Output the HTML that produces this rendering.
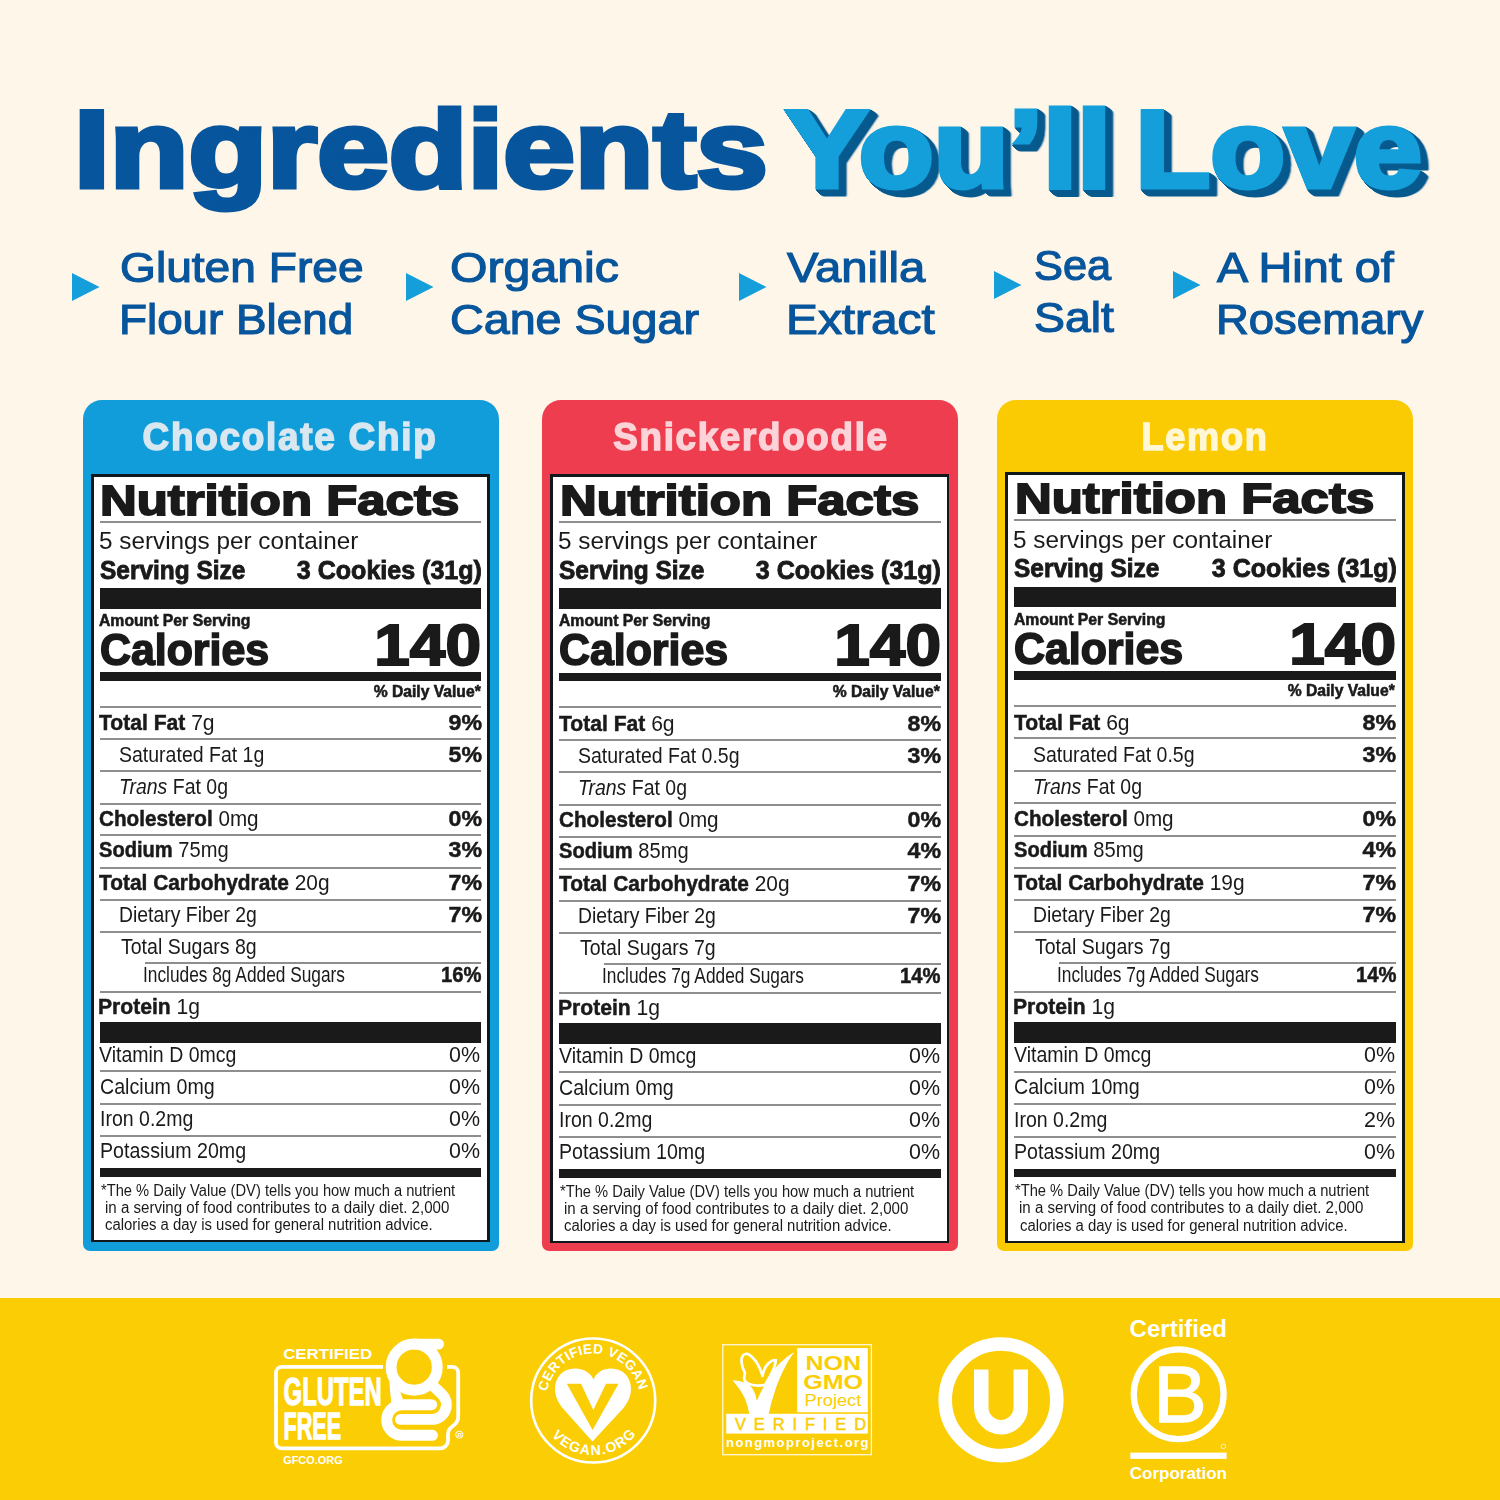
<!DOCTYPE html><html><head><meta charset="utf-8"><title>Ingredients You'll Love</title><style>
html,body{margin:0;padding:0;overflow:hidden}body{width:1500px;height:1500px;position:relative;overflow:hidden;background:#fff6ea;font-family:"Liberation Sans",sans-serif}
div,span.t{position:absolute}span.t{white-space:nowrap;line-height:1;display:block}svg{position:absolute;overflow:visible}
</style></head><body>
<svg style="left:72px;top:272.7px" width="28" height="28" viewBox="0 0 28 28"><path d="M0 0L27.5 14L0 28Z" fill="#149fdb"/></svg>
<svg style="left:406px;top:272.7px" width="28" height="28" viewBox="0 0 28 28"><path d="M0 0L27.5 14L0 28Z" fill="#149fdb"/></svg>
<svg style="left:738.7px;top:272.7px" width="28" height="28" viewBox="0 0 28 28"><path d="M0 0L27.5 14L0 28Z" fill="#149fdb"/></svg>
<svg style="left:994px;top:270.6px" width="28" height="28" viewBox="0 0 28 28"><path d="M0 0L27.5 14L0 28Z" fill="#149fdb"/></svg>
<svg style="left:1172.5px;top:270.6px" width="28" height="28" viewBox="0 0 28 28"><path d="M0 0L27.5 14L0 28Z" fill="#149fdb"/></svg>
<div style="left:83px;top:400px;width:416px;height:851px;background:#109dd9;border-radius:19px 19px 7px 7px;"></div>
<div style="left:90.9px;top:473.8px;width:399.3px;height:768.7px;background:#10181c"></div>
<div style="left:93.7px;top:476.6px;width:393.7px;height:763.1px;background:#fff"></div>
<div style="left:99.6px;top:521px;width:381.7px;height:2px;background:#8e8e8e;"></div>
<div style="left:99.6px;top:588px;width:381.7px;height:20.6px;background:#1b1a1a;"></div>
<div style="left:99.6px;top:672.2px;width:381.7px;height:8.8px;background:#1b1a1a;"></div>
<div style="left:99.6px;top:706px;width:381.7px;height:2px;background:#8e8e8e;"></div>
<div style="left:99.6px;top:738px;width:381.7px;height:2px;background:#8e8e8e;"></div>
<div style="left:99.6px;top:770px;width:381.7px;height:2px;background:#8e8e8e;"></div>
<div style="left:99.6px;top:803px;width:381.7px;height:2px;background:#8e8e8e;"></div>
<div style="left:99.6px;top:834px;width:381.7px;height:2px;background:#8e8e8e;"></div>
<div style="left:99.6px;top:867px;width:381.7px;height:2px;background:#8e8e8e;"></div>
<div style="left:99.6px;top:899px;width:381.7px;height:2px;background:#8e8e8e;"></div>
<div style="left:99.6px;top:931px;width:381.7px;height:2px;background:#8e8e8e;"></div>
<div style="left:99.6px;top:991px;width:381.7px;height:2px;background:#8e8e8e;"></div>
<div style="left:144.8px;top:962px;width:336.5px;height:2px;background:#8e8e8e;"></div>
<div style="left:99.6px;top:1022px;width:381.7px;height:20.6px;background:#1b1a1a;"></div>
<div style="left:99.6px;top:1070px;width:381.7px;height:2px;background:#8e8e8e;"></div>
<div style="left:99.6px;top:1103px;width:381.7px;height:2px;background:#8e8e8e;"></div>
<div style="left:99.6px;top:1135px;width:381.7px;height:2px;background:#8e8e8e;"></div>
<div style="left:99.6px;top:1168px;width:381.7px;height:8.8px;background:#1b1a1a;"></div>
<div style="left:542px;top:400px;width:416px;height:851px;background:#ee3d4e;border-radius:19px 19px 7px 7px;"></div>
<div style="left:550.2px;top:473.8px;width:399.3px;height:769.7px;background:#10181c"></div>
<div style="left:553.0px;top:476.6px;width:393.7px;height:764.1px;background:#fff"></div>
<div style="left:558.9px;top:521px;width:381.7px;height:2px;background:#8e8e8e;"></div>
<div style="left:558.9px;top:588.1px;width:381.7px;height:20.7px;background:#1b1a1a;"></div>
<div style="left:558.9px;top:672.6px;width:381.7px;height:8.8px;background:#1b1a1a;"></div>
<div style="left:558.9px;top:706px;width:381.7px;height:2px;background:#8e8e8e;"></div>
<div style="left:558.9px;top:739px;width:381.7px;height:2px;background:#8e8e8e;"></div>
<div style="left:558.9px;top:771px;width:381.7px;height:2px;background:#8e8e8e;"></div>
<div style="left:558.9px;top:804px;width:381.7px;height:2px;background:#8e8e8e;"></div>
<div style="left:558.9px;top:836px;width:381.7px;height:2px;background:#8e8e8e;"></div>
<div style="left:558.9px;top:868px;width:381.7px;height:2px;background:#8e8e8e;"></div>
<div style="left:558.9px;top:900px;width:381.7px;height:2px;background:#8e8e8e;"></div>
<div style="left:558.9px;top:932px;width:381.7px;height:2px;background:#8e8e8e;"></div>
<div style="left:558.9px;top:992px;width:381.7px;height:2px;background:#8e8e8e;"></div>
<div style="left:604.1px;top:963px;width:336.5px;height:2px;background:#8e8e8e;"></div>
<div style="left:558.9px;top:1023.0px;width:381.7px;height:20.6px;background:#1b1a1a;"></div>
<div style="left:558.9px;top:1071px;width:381.7px;height:2px;background:#8e8e8e;"></div>
<div style="left:558.9px;top:1104px;width:381.7px;height:2px;background:#8e8e8e;"></div>
<div style="left:558.9px;top:1136px;width:381.7px;height:2px;background:#8e8e8e;"></div>
<div style="left:558.9px;top:1169.0px;width:381.7px;height:8.8px;background:#1b1a1a;"></div>
<div style="left:997px;top:400px;width:416px;height:851px;background:#facb03;border-radius:19px 19px 7px 7px;"></div>
<div style="left:1005.3px;top:471.8px;width:399.3px;height:771.6px;background:#10181c"></div>
<div style="left:1008.1px;top:474.6px;width:393.7px;height:766.0px;background:#fff"></div>
<div style="left:1014.0px;top:519px;width:381.7px;height:2px;background:#8e8e8e;"></div>
<div style="left:1014.0px;top:586.6px;width:381.7px;height:20.7px;background:#1b1a1a;"></div>
<div style="left:1014.0px;top:671.3px;width:381.7px;height:8.8px;background:#1b1a1a;"></div>
<div style="left:1014.0px;top:705px;width:381.7px;height:2px;background:#8e8e8e;"></div>
<div style="left:1014.0px;top:737px;width:381.7px;height:2px;background:#8e8e8e;"></div>
<div style="left:1014.0px;top:770px;width:381.7px;height:2px;background:#8e8e8e;"></div>
<div style="left:1014.0px;top:802px;width:381.7px;height:2px;background:#8e8e8e;"></div>
<div style="left:1014.0px;top:835px;width:381.7px;height:2px;background:#8e8e8e;"></div>
<div style="left:1014.0px;top:867px;width:381.7px;height:2px;background:#8e8e8e;"></div>
<div style="left:1014.0px;top:899px;width:381.7px;height:2px;background:#8e8e8e;"></div>
<div style="left:1014.0px;top:931px;width:381.7px;height:2px;background:#8e8e8e;"></div>
<div style="left:1014.0px;top:991px;width:381.7px;height:2px;background:#8e8e8e;"></div>
<div style="left:1059.2px;top:962px;width:336.5px;height:2px;background:#8e8e8e;"></div>
<div style="left:1014.0px;top:1022.4px;width:381.7px;height:20.6px;background:#1b1a1a;"></div>
<div style="left:1014.0px;top:1071px;width:381.7px;height:2px;background:#8e8e8e;"></div>
<div style="left:1014.0px;top:1103px;width:381.7px;height:2px;background:#8e8e8e;"></div>
<div style="left:1014.0px;top:1136px;width:381.7px;height:2px;background:#8e8e8e;"></div>
<div style="left:1014.0px;top:1168.7px;width:381.7px;height:8.8px;background:#1b1a1a;"></div>
<div style="left:0px;top:1298px;width:1500px;height:202px;background:#facd05;"></div>
<span class="t" style="top:94.38px;font-size:110px;font-weight:700;color:#07559c;left:73.79px;transform-origin:0 0;transform:scaleX(1.1704);-webkit-text-stroke:5px #07559c;">Ingredients</span>
<span class="t" style="top:94.38px;font-size:110px;font-weight:700;color:#149fdb;left:786.40px;transform-origin:0 0;transform:scaleX(1.1166);-webkit-text-stroke:5px #149fdb;filter:drop-shadow(1.14px 1px 0 #075a8e) drop-shadow(1.14px 1px 0 #075a8e) drop-shadow(1.14px 1px 0 #075a8e) drop-shadow(1.14px 1px 0 #075a8e) drop-shadow(1.14px 1px 0 #075a8e) drop-shadow(1.14px 1px 0 #075a8e) drop-shadow(1.14px 1px 0 #075a8e);word-spacing:-9px;">You&#8217;ll Love</span>
<span class="t" style="top:245.90px;font-size:43px;font-weight:400;color:#07559c;left:120.01px;transform-origin:0 0;transform:scaleX(1.0727);-webkit-text-stroke:1.2px #07559c;">Gluten Free</span>
<span class="t" style="top:297.90px;font-size:43px;font-weight:400;color:#07559c;left:118.63px;transform-origin:0 0;transform:scaleX(1.0650);-webkit-text-stroke:1.2px #07559c;">Flour Blend</span>
<span class="t" style="top:245.90px;font-size:43px;font-weight:400;color:#07559c;left:449.96px;transform-origin:0 0;transform:scaleX(1.1221);-webkit-text-stroke:1.2px #07559c;">Organic</span>
<span class="t" style="top:297.90px;font-size:43px;font-weight:400;color:#07559c;left:449.96px;transform-origin:0 0;transform:scaleX(1.0849);-webkit-text-stroke:1.2px #07559c;">Cane Sugar</span>
<span class="t" style="top:245.90px;font-size:43px;font-weight:400;color:#07559c;left:787.39px;transform-origin:0 0;transform:scaleX(1.0987);-webkit-text-stroke:1.2px #07559c;">Vanilla</span>
<span class="t" style="top:297.90px;font-size:43px;font-weight:400;color:#07559c;left:786.21px;transform-origin:0 0;transform:scaleX(1.1116);-webkit-text-stroke:1.2px #07559c;">Extract</span>
<span class="t" style="top:244.10px;font-size:43px;font-weight:400;color:#07559c;left:1033.59px;transform-origin:0 0;transform:scaleX(1.0087);-webkit-text-stroke:1.2px #07559c;">Sea</span>
<span class="t" style="top:296.10px;font-size:43px;font-weight:400;color:#07559c;left:1033.59px;transform-origin:0 0;transform:scaleX(1.0787);-webkit-text-stroke:1.2px #07559c;">Salt</span>
<span class="t" style="top:245.90px;font-size:43px;font-weight:400;color:#07559c;left:1216.86px;transform-origin:0 0;transform:scaleX(1.0868);-webkit-text-stroke:1.2px #07559c;">A Hint of</span>
<span class="t" style="top:297.90px;font-size:43px;font-weight:400;color:#07559c;left:1216.05px;transform-origin:0 0;transform:scaleX(1.0573);-webkit-text-stroke:1.2px #07559c;">Rosemary</span>
<span class="t" style="top:417.53px;font-size:38.6px;font-weight:700;color:#d9e7f1;left:90.35px;width:400px;text-align:center;transform-origin:50% 0;transform:scaleX(0.9574);-webkit-text-stroke:1.5px #d9e7f1;letter-spacing:1.8px;"><span>Chocolate Chip</span></span>
<span class="t" style="top:478.64px;font-size:42.6px;font-weight:700;color:#1b1a1a;left:100.31px;transform-origin:0 0;transform:scaleX(1.1952);-webkit-text-stroke:1.8px #1b1a1a;">Nutrition Facts</span>
<span class="t" style="top:529.28px;font-size:24.6px;font-weight:400;color:#1b1a1a;left:99.08px;transform-origin:0 0;transform:scaleX(0.9878);">5 servings per container</span>
<span class="t" style="top:556.87px;font-size:26.5px;font-weight:700;color:#1b1a1a;left:99.69px;transform-origin:0 0;transform:scaleX(0.9226);-webkit-text-stroke:0.9px #1b1a1a;">Serving Size</span>
<span class="t" style="top:556.87px;font-size:26.5px;font-weight:700;color:#1b1a1a;right:1017.99px;transform-origin:100% 0;transform:scaleX(0.9445);-webkit-text-stroke:0.9px #1b1a1a;">3 Cookies (31g)</span>
<span class="t" style="top:611.93px;font-size:16.5px;font-weight:700;color:#1b1a1a;left:99.22px;transform-origin:0 0;transform:scaleX(0.9545);-webkit-text-stroke:0.6px #1b1a1a;">Amount Per Serving</span>
<span class="t" style="top:627.56px;font-size:44.7px;font-weight:700;color:#1b1a1a;left:99.86px;transform-origin:0 0;transform:scaleX(0.9588);-webkit-text-stroke:1.7px #1b1a1a;">Calories</span>
<span class="t" style="top:616.63px;font-size:57.5px;font-weight:700;color:#1b1a1a;right:1018.61px;transform-origin:100% 0;transform:scaleX(1.1112);-webkit-text-stroke:2px #1b1a1a;">140</span>
<span class="t" style="top:683.78px;font-size:16.8px;font-weight:700;color:#1b1a1a;right:1019.19px;transform-origin:100% 0;transform:scaleX(0.9335);-webkit-text-stroke:0.6px #1b1a1a;">% Daily Value*</span>
<span class="t" style="top:712.21px;font-size:22.2px;font-weight:400;color:#1b1a1a;left:99.25px;transform-origin:0 0;transform:scaleX(0.9503);"><b style="-webkit-text-stroke:0.5px #1b1a1a">Total Fat</b> 7g</span>
<span class="t" style="top:712.21px;font-size:22.2px;font-weight:700;color:#1b1a1a;right:1018.40px;transform-origin:100% 0;transform:scaleX(1.0443);-webkit-text-stroke:0.5px #1b1a1a;">9%</span>
<span class="t" style="top:744.21px;font-size:22.2px;font-weight:400;color:#1b1a1a;left:119.05px;transform-origin:0 0;transform:scaleX(0.8791);">Saturated Fat 1g</span>
<span class="t" style="top:744.21px;font-size:22.2px;font-weight:700;color:#1b1a1a;right:1018.40px;transform-origin:100% 0;transform:scaleX(1.0443);-webkit-text-stroke:0.5px #1b1a1a;">5%</span>
<span class="t" style="top:776.21px;font-size:22.2px;font-weight:400;color:#1b1a1a;left:119.05px;transform-origin:0 0;transform:scaleX(0.8779);"><i>Trans</i> Fat 0g</span>
<span class="t" style="top:807.81px;font-size:22.2px;font-weight:400;color:#1b1a1a;left:99.25px;transform-origin:0 0;transform:scaleX(0.9312);"><b style="-webkit-text-stroke:0.5px #1b1a1a">Cholesterol</b> 0mg</span>
<span class="t" style="top:807.81px;font-size:22.2px;font-weight:700;color:#1b1a1a;right:1018.40px;transform-origin:100% 0;transform:scaleX(1.0443);-webkit-text-stroke:0.5px #1b1a1a;">0%</span>
<span class="t" style="top:839.41px;font-size:22.2px;font-weight:400;color:#1b1a1a;left:99.25px;transform-origin:0 0;transform:scaleX(0.9067);"><b style="-webkit-text-stroke:0.5px #1b1a1a">Sodium</b> 75mg</span>
<span class="t" style="top:839.41px;font-size:22.2px;font-weight:700;color:#1b1a1a;right:1018.40px;transform-origin:100% 0;transform:scaleX(1.0443);-webkit-text-stroke:0.5px #1b1a1a;">3%</span>
<span class="t" style="top:871.61px;font-size:22.2px;font-weight:400;color:#1b1a1a;left:99.25px;transform-origin:0 0;transform:scaleX(0.9413);"><b style="-webkit-text-stroke:0.5px #1b1a1a">Total Carbohydrate</b> 20g</span>
<span class="t" style="top:871.61px;font-size:22.2px;font-weight:700;color:#1b1a1a;right:1018.40px;transform-origin:100% 0;transform:scaleX(1.0443);-webkit-text-stroke:0.5px #1b1a1a;">7%</span>
<span class="t" style="top:903.91px;font-size:22.2px;font-weight:400;color:#1b1a1a;left:119.05px;transform-origin:0 0;transform:scaleX(0.8737);">Dietary Fiber 2g</span>
<span class="t" style="top:903.91px;font-size:22.2px;font-weight:700;color:#1b1a1a;right:1018.40px;transform-origin:100% 0;transform:scaleX(1.0443);-webkit-text-stroke:0.5px #1b1a1a;">7%</span>
<span class="t" style="top:936.21px;font-size:22.2px;font-weight:400;color:#1b1a1a;left:120.85px;transform-origin:0 0;transform:scaleX(0.8800);">Total Sugars 8g</span>
<span class="t" style="top:963.61px;font-size:22.2px;font-weight:400;color:#1b1a1a;left:142.94px;transform-origin:0 0;transform:scaleX(0.7798);">Includes 8g Added Sugars</span>
<span class="t" style="top:963.61px;font-size:22.2px;font-weight:700;color:#1b1a1a;right:1018.40px;transform-origin:100% 0;transform:scaleX(0.9117);-webkit-text-stroke:0.5px #1b1a1a;">16%</span>
<span class="t" style="top:995.71px;font-size:22.2px;font-weight:400;color:#1b1a1a;left:98.35px;transform-origin:0 0;transform:scaleX(0.9509);"><b style="-webkit-text-stroke:0.5px #1b1a1a">Protein</b> 1g</span>
<span class="t" style="top:1043.61px;font-size:22.2px;font-weight:400;color:#1b1a1a;left:99.25px;transform-origin:0 0;transform:scaleX(0.8796);">Vitamin D 0mcg</span>
<span class="t" style="top:1043.61px;font-size:22.2px;font-weight:400;color:#1b1a1a;right:1019.50px;transform-origin:100% 0;transform:scaleX(0.9664);">0%</span>
<span class="t" style="top:1075.91px;font-size:22.2px;font-weight:400;color:#1b1a1a;left:99.96px;transform-origin:0 0;transform:scaleX(0.8858);">Calcium 0mg</span>
<span class="t" style="top:1075.91px;font-size:22.2px;font-weight:400;color:#1b1a1a;right:1019.50px;transform-origin:100% 0;transform:scaleX(0.9664);">0%</span>
<span class="t" style="top:1108.11px;font-size:22.2px;font-weight:400;color:#1b1a1a;left:99.96px;transform-origin:0 0;transform:scaleX(0.8803);">Iron 0.2mg</span>
<span class="t" style="top:1108.11px;font-size:22.2px;font-weight:400;color:#1b1a1a;right:1019.50px;transform-origin:100% 0;transform:scaleX(0.9664);">0%</span>
<span class="t" style="top:1140.41px;font-size:22.2px;font-weight:400;color:#1b1a1a;left:99.96px;transform-origin:0 0;transform:scaleX(0.8841);">Potassium 20mg</span>
<span class="t" style="top:1140.41px;font-size:22.2px;font-weight:400;color:#1b1a1a;right:1019.50px;transform-origin:100% 0;transform:scaleX(0.9664);">0%</span>
<span class="t" style="top:1182.59px;font-size:15.6px;font-weight:400;color:#1b1a1a;left:100.66px;transform-origin:0 0;transform:scaleX(0.9424);">*The % Daily Value (DV) tells you how much a nutrient</span>
<span class="t" style="top:1199.69px;font-size:15.6px;font-weight:400;color:#1b1a1a;left:104.54px;transform-origin:0 0;transform:scaleX(0.9664);">in a serving of food contributes to a daily diet. 2,000</span>
<span class="t" style="top:1217.09px;font-size:15.6px;font-weight:400;color:#1b1a1a;left:105.14px;transform-origin:0 0;transform:scaleX(0.9568);">calories a day is used for general nutrition advice.</span>
<span class="t" style="top:417.53px;font-size:38.6px;font-weight:700;color:#fbd3d8;left:550.62px;width:400px;text-align:center;transform-origin:50% 0;transform:scaleX(0.9525);-webkit-text-stroke:1.5px #fbd3d8;letter-spacing:1.8px;"><span>Snickerdoodle</span></span>
<span class="t" style="top:478.64px;font-size:42.6px;font-weight:700;color:#1b1a1a;left:559.61px;transform-origin:0 0;transform:scaleX(1.1952);-webkit-text-stroke:1.8px #1b1a1a;">Nutrition Facts</span>
<span class="t" style="top:529.28px;font-size:24.6px;font-weight:400;color:#1b1a1a;left:558.38px;transform-origin:0 0;transform:scaleX(0.9878);">5 servings per container</span>
<span class="t" style="top:556.94px;font-size:26.5px;font-weight:700;color:#1b1a1a;left:558.99px;transform-origin:0 0;transform:scaleX(0.9226);-webkit-text-stroke:0.9px #1b1a1a;">Serving Size</span>
<span class="t" style="top:556.94px;font-size:26.5px;font-weight:700;color:#1b1a1a;right:558.69px;transform-origin:100% 0;transform:scaleX(0.9445);-webkit-text-stroke:0.9px #1b1a1a;">3 Cookies (31g)</span>
<span class="t" style="top:612.20px;font-size:16.5px;font-weight:700;color:#1b1a1a;left:558.52px;transform-origin:0 0;transform:scaleX(0.9545);-webkit-text-stroke:0.6px #1b1a1a;">Amount Per Serving</span>
<span class="t" style="top:627.98px;font-size:44.7px;font-weight:700;color:#1b1a1a;left:559.16px;transform-origin:0 0;transform:scaleX(0.9588);-webkit-text-stroke:1.7px #1b1a1a;">Calories</span>
<span class="t" style="top:617.05px;font-size:57.5px;font-weight:700;color:#1b1a1a;right:559.31px;transform-origin:100% 0;transform:scaleX(1.1112);-webkit-text-stroke:2px #1b1a1a;">140</span>
<span class="t" style="top:684.33px;font-size:16.8px;font-weight:700;color:#1b1a1a;right:559.89px;transform-origin:100% 0;transform:scaleX(0.9335);-webkit-text-stroke:0.6px #1b1a1a;">% Daily Value*</span>
<span class="t" style="top:712.89px;font-size:22.2px;font-weight:400;color:#1b1a1a;left:558.55px;transform-origin:0 0;transform:scaleX(0.9503);"><b style="-webkit-text-stroke:0.5px #1b1a1a">Total Fat</b> 6g</span>
<span class="t" style="top:712.89px;font-size:22.2px;font-weight:700;color:#1b1a1a;right:559.10px;transform-origin:100% 0;transform:scaleX(1.0443);-webkit-text-stroke:0.5px #1b1a1a;">8%</span>
<span class="t" style="top:745.02px;font-size:22.2px;font-weight:400;color:#1b1a1a;left:578.35px;transform-origin:0 0;transform:scaleX(0.8791);">Saturated Fat 0.5g</span>
<span class="t" style="top:745.02px;font-size:22.2px;font-weight:700;color:#1b1a1a;right:559.10px;transform-origin:100% 0;transform:scaleX(1.0443);-webkit-text-stroke:0.5px #1b1a1a;">3%</span>
<span class="t" style="top:777.15px;font-size:22.2px;font-weight:400;color:#1b1a1a;left:578.35px;transform-origin:0 0;transform:scaleX(0.8779);"><i>Trans</i> Fat 0g</span>
<span class="t" style="top:808.81px;font-size:22.2px;font-weight:400;color:#1b1a1a;left:558.55px;transform-origin:0 0;transform:scaleX(0.9312);"><b style="-webkit-text-stroke:0.5px #1b1a1a">Cholesterol</b> 0mg</span>
<span class="t" style="top:808.81px;font-size:22.2px;font-weight:700;color:#1b1a1a;right:559.10px;transform-origin:100% 0;transform:scaleX(1.0443);-webkit-text-stroke:0.5px #1b1a1a;">0%</span>
<span class="t" style="top:840.41px;font-size:22.2px;font-weight:400;color:#1b1a1a;left:558.55px;transform-origin:0 0;transform:scaleX(0.9067);"><b style="-webkit-text-stroke:0.5px #1b1a1a">Sodium</b> 85mg</span>
<span class="t" style="top:840.41px;font-size:22.2px;font-weight:700;color:#1b1a1a;right:559.10px;transform-origin:100% 0;transform:scaleX(1.0443);-webkit-text-stroke:0.5px #1b1a1a;">4%</span>
<span class="t" style="top:872.61px;font-size:22.2px;font-weight:400;color:#1b1a1a;left:558.55px;transform-origin:0 0;transform:scaleX(0.9413);"><b style="-webkit-text-stroke:0.5px #1b1a1a">Total Carbohydrate</b> 20g</span>
<span class="t" style="top:872.61px;font-size:22.2px;font-weight:700;color:#1b1a1a;right:559.10px;transform-origin:100% 0;transform:scaleX(1.0443);-webkit-text-stroke:0.5px #1b1a1a;">7%</span>
<span class="t" style="top:904.91px;font-size:22.2px;font-weight:400;color:#1b1a1a;left:578.35px;transform-origin:0 0;transform:scaleX(0.8737);">Dietary Fiber 2g</span>
<span class="t" style="top:904.91px;font-size:22.2px;font-weight:700;color:#1b1a1a;right:559.10px;transform-origin:100% 0;transform:scaleX(1.0443);-webkit-text-stroke:0.5px #1b1a1a;">7%</span>
<span class="t" style="top:937.21px;font-size:22.2px;font-weight:400;color:#1b1a1a;left:580.15px;transform-origin:0 0;transform:scaleX(0.8800);">Total Sugars 7g</span>
<span class="t" style="top:964.61px;font-size:22.2px;font-weight:400;color:#1b1a1a;left:602.24px;transform-origin:0 0;transform:scaleX(0.7798);">Includes 7g Added Sugars</span>
<span class="t" style="top:964.61px;font-size:22.2px;font-weight:700;color:#1b1a1a;right:559.10px;transform-origin:100% 0;transform:scaleX(0.9117);-webkit-text-stroke:0.5px #1b1a1a;">14%</span>
<span class="t" style="top:996.71px;font-size:22.2px;font-weight:400;color:#1b1a1a;left:557.65px;transform-origin:0 0;transform:scaleX(0.9509);"><b style="-webkit-text-stroke:0.5px #1b1a1a">Protein</b> 1g</span>
<span class="t" style="top:1044.61px;font-size:22.2px;font-weight:400;color:#1b1a1a;left:558.55px;transform-origin:0 0;transform:scaleX(0.8796);">Vitamin D 0mcg</span>
<span class="t" style="top:1044.61px;font-size:22.2px;font-weight:400;color:#1b1a1a;right:560.20px;transform-origin:100% 0;transform:scaleX(0.9664);">0%</span>
<span class="t" style="top:1076.91px;font-size:22.2px;font-weight:400;color:#1b1a1a;left:559.26px;transform-origin:0 0;transform:scaleX(0.8858);">Calcium 0mg</span>
<span class="t" style="top:1076.91px;font-size:22.2px;font-weight:400;color:#1b1a1a;right:560.20px;transform-origin:100% 0;transform:scaleX(0.9664);">0%</span>
<span class="t" style="top:1109.11px;font-size:22.2px;font-weight:400;color:#1b1a1a;left:559.26px;transform-origin:0 0;transform:scaleX(0.8803);">Iron 0.2mg</span>
<span class="t" style="top:1109.11px;font-size:22.2px;font-weight:400;color:#1b1a1a;right:560.20px;transform-origin:100% 0;transform:scaleX(0.9664);">0%</span>
<span class="t" style="top:1141.41px;font-size:22.2px;font-weight:400;color:#1b1a1a;left:559.26px;transform-origin:0 0;transform:scaleX(0.8841);">Potassium 10mg</span>
<span class="t" style="top:1141.41px;font-size:22.2px;font-weight:400;color:#1b1a1a;right:560.20px;transform-origin:100% 0;transform:scaleX(0.9664);">0%</span>
<span class="t" style="top:1183.59px;font-size:15.6px;font-weight:400;color:#1b1a1a;left:559.96px;transform-origin:0 0;transform:scaleX(0.9424);">*The % Daily Value (DV) tells you how much a nutrient</span>
<span class="t" style="top:1200.69px;font-size:15.6px;font-weight:400;color:#1b1a1a;left:563.84px;transform-origin:0 0;transform:scaleX(0.9664);">in a serving of food contributes to a daily diet. 2,000</span>
<span class="t" style="top:1218.09px;font-size:15.6px;font-weight:400;color:#1b1a1a;left:564.44px;transform-origin:0 0;transform:scaleX(0.9568);">calories a day is used for general nutrition advice.</span>
<span class="t" style="top:417.53px;font-size:38.6px;font-weight:700;color:#fff7d6;left:1004.76px;width:400px;text-align:center;transform-origin:50% 0;transform:scaleX(0.9371);-webkit-text-stroke:1.5px #fff7d6;letter-spacing:1.8px;"><span>Lemon</span></span>
<span class="t" style="top:476.86px;font-size:42.6px;font-weight:700;color:#1b1a1a;left:1014.71px;transform-origin:0 0;transform:scaleX(1.1952);-webkit-text-stroke:1.8px #1b1a1a;">Nutrition Facts</span>
<span class="t" style="top:527.69px;font-size:24.6px;font-weight:400;color:#1b1a1a;left:1013.48px;transform-origin:0 0;transform:scaleX(0.9878);">5 servings per container</span>
<span class="t" style="top:555.45px;font-size:26.5px;font-weight:700;color:#1b1a1a;left:1014.09px;transform-origin:0 0;transform:scaleX(0.9226);-webkit-text-stroke:0.9px #1b1a1a;">Serving Size</span>
<span class="t" style="top:555.45px;font-size:26.5px;font-weight:700;color:#1b1a1a;right:103.59px;transform-origin:100% 0;transform:scaleX(0.9445);-webkit-text-stroke:0.9px #1b1a1a;">3 Cookies (31g)</span>
<span class="t" style="top:610.77px;font-size:16.5px;font-weight:700;color:#1b1a1a;left:1013.62px;transform-origin:0 0;transform:scaleX(0.9545);-webkit-text-stroke:0.6px #1b1a1a;">Amount Per Serving</span>
<span class="t" style="top:626.62px;font-size:44.7px;font-weight:700;color:#1b1a1a;left:1014.26px;transform-origin:0 0;transform:scaleX(0.9588);-webkit-text-stroke:1.7px #1b1a1a;">Calories</span>
<span class="t" style="top:615.68px;font-size:57.5px;font-weight:700;color:#1b1a1a;right:104.21px;transform-origin:100% 0;transform:scaleX(1.1112);-webkit-text-stroke:2px #1b1a1a;">140</span>
<span class="t" style="top:683.02px;font-size:16.8px;font-weight:700;color:#1b1a1a;right:104.79px;transform-origin:100% 0;transform:scaleX(0.9335);-webkit-text-stroke:0.6px #1b1a1a;">% Daily Value*</span>
<span class="t" style="top:711.63px;font-size:22.2px;font-weight:400;color:#1b1a1a;left:1013.65px;transform-origin:0 0;transform:scaleX(0.9503);"><b style="-webkit-text-stroke:0.5px #1b1a1a">Total Fat</b> 6g</span>
<span class="t" style="top:711.63px;font-size:22.2px;font-weight:700;color:#1b1a1a;right:104.00px;transform-origin:100% 0;transform:scaleX(1.0443);-webkit-text-stroke:0.5px #1b1a1a;">8%</span>
<span class="t" style="top:743.81px;font-size:22.2px;font-weight:400;color:#1b1a1a;left:1033.45px;transform-origin:0 0;transform:scaleX(0.8791);">Saturated Fat 0.5g</span>
<span class="t" style="top:743.81px;font-size:22.2px;font-weight:700;color:#1b1a1a;right:104.00px;transform-origin:100% 0;transform:scaleX(1.0443);-webkit-text-stroke:0.5px #1b1a1a;">3%</span>
<span class="t" style="top:775.99px;font-size:22.2px;font-weight:400;color:#1b1a1a;left:1033.45px;transform-origin:0 0;transform:scaleX(0.8779);"><i>Trans</i> Fat 0g</span>
<span class="t" style="top:807.76px;font-size:22.2px;font-weight:400;color:#1b1a1a;left:1013.65px;transform-origin:0 0;transform:scaleX(0.9312);"><b style="-webkit-text-stroke:0.5px #1b1a1a">Cholesterol</b> 0mg</span>
<span class="t" style="top:807.76px;font-size:22.2px;font-weight:700;color:#1b1a1a;right:104.00px;transform-origin:100% 0;transform:scaleX(1.0443);-webkit-text-stroke:0.5px #1b1a1a;">0%</span>
<span class="t" style="top:839.46px;font-size:22.2px;font-weight:400;color:#1b1a1a;left:1013.65px;transform-origin:0 0;transform:scaleX(0.9067);"><b style="-webkit-text-stroke:0.5px #1b1a1a">Sodium</b> 85mg</span>
<span class="t" style="top:839.46px;font-size:22.2px;font-weight:700;color:#1b1a1a;right:104.00px;transform-origin:100% 0;transform:scaleX(1.0443);-webkit-text-stroke:0.5px #1b1a1a;">4%</span>
<span class="t" style="top:871.72px;font-size:22.2px;font-weight:400;color:#1b1a1a;left:1013.65px;transform-origin:0 0;transform:scaleX(0.9413);"><b style="-webkit-text-stroke:0.5px #1b1a1a">Total Carbohydrate</b> 19g</span>
<span class="t" style="top:871.72px;font-size:22.2px;font-weight:700;color:#1b1a1a;right:104.00px;transform-origin:100% 0;transform:scaleX(1.0443);-webkit-text-stroke:0.5px #1b1a1a;">7%</span>
<span class="t" style="top:904.09px;font-size:22.2px;font-weight:400;color:#1b1a1a;left:1033.45px;transform-origin:0 0;transform:scaleX(0.8737);">Dietary Fiber 2g</span>
<span class="t" style="top:904.09px;font-size:22.2px;font-weight:700;color:#1b1a1a;right:104.00px;transform-origin:100% 0;transform:scaleX(1.0443);-webkit-text-stroke:0.5px #1b1a1a;">7%</span>
<span class="t" style="top:936.46px;font-size:22.2px;font-weight:400;color:#1b1a1a;left:1035.25px;transform-origin:0 0;transform:scaleX(0.8800);">Total Sugars 7g</span>
<span class="t" style="top:963.92px;font-size:22.2px;font-weight:400;color:#1b1a1a;left:1057.34px;transform-origin:0 0;transform:scaleX(0.7798);">Includes 7g Added Sugars</span>
<span class="t" style="top:963.92px;font-size:22.2px;font-weight:700;color:#1b1a1a;right:104.00px;transform-origin:100% 0;transform:scaleX(0.9117);-webkit-text-stroke:0.5px #1b1a1a;">14%</span>
<span class="t" style="top:996.08px;font-size:22.2px;font-weight:400;color:#1b1a1a;left:1012.75px;transform-origin:0 0;transform:scaleX(0.9509);"><b style="-webkit-text-stroke:0.5px #1b1a1a">Protein</b> 1g</span>
<span class="t" style="top:1044.08px;font-size:22.2px;font-weight:400;color:#1b1a1a;left:1013.65px;transform-origin:0 0;transform:scaleX(0.8796);">Vitamin D 0mcg</span>
<span class="t" style="top:1044.08px;font-size:22.2px;font-weight:400;color:#1b1a1a;right:105.10px;transform-origin:100% 0;transform:scaleX(0.9664);">0%</span>
<span class="t" style="top:1076.45px;font-size:22.2px;font-weight:400;color:#1b1a1a;left:1014.36px;transform-origin:0 0;transform:scaleX(0.8858);">Calcium 10mg</span>
<span class="t" style="top:1076.45px;font-size:22.2px;font-weight:400;color:#1b1a1a;right:105.10px;transform-origin:100% 0;transform:scaleX(0.9664);">0%</span>
<span class="t" style="top:1108.72px;font-size:22.2px;font-weight:400;color:#1b1a1a;left:1014.36px;transform-origin:0 0;transform:scaleX(0.8803);">Iron 0.2mg</span>
<span class="t" style="top:1108.72px;font-size:22.2px;font-weight:400;color:#1b1a1a;right:105.10px;transform-origin:100% 0;transform:scaleX(0.9664);">2%</span>
<span class="t" style="top:1141.09px;font-size:22.2px;font-weight:400;color:#1b1a1a;left:1014.36px;transform-origin:0 0;transform:scaleX(0.8841);">Potassium 20mg</span>
<span class="t" style="top:1141.09px;font-size:22.2px;font-weight:400;color:#1b1a1a;right:105.10px;transform-origin:100% 0;transform:scaleX(0.9664);">0%</span>
<span class="t" style="top:1183.35px;font-size:15.6px;font-weight:400;color:#1b1a1a;left:1015.06px;transform-origin:0 0;transform:scaleX(0.9424);">*The % Daily Value (DV) tells you how much a nutrient</span>
<span class="t" style="top:1200.48px;font-size:15.6px;font-weight:400;color:#1b1a1a;left:1018.94px;transform-origin:0 0;transform:scaleX(0.9664);">in a serving of food contributes to a daily diet. 2,000</span>
<span class="t" style="top:1217.92px;font-size:15.6px;font-weight:400;color:#1b1a1a;left:1019.54px;transform-origin:0 0;transform:scaleX(0.9568);">calories a day is used for general nutrition advice.</span>
<svg style="left:0;top:1298px" width="1500" height="202" viewBox="0 1298 1500 202" font-family="Liberation Sans, sans-serif" fill="#fff">
<!-- GFCO gluten free -->
<g>
<text x="283.2" y="1359.4" font-size="14.2" font-weight="700" textLength="89" lengthAdjust="spacingAndGlyphs">CERTIFIED</text>
<path d="M383,1366.8 L282,1366.8 A6 6 0 0 0 276,1372.8 L276,1442.4 A6 6 0 0 0 282,1448.4 L440,1448.4 A8 8 0 0 0 448,1440.4 L448,1434 C448,1425 458.2,1427 458.2,1417 L458.2,1372.8 A6 6 0 0 0 452.2,1366.8 L447,1366.8" fill="none" stroke="#fff" stroke-width="3.8"/>
<text x="283.6" y="1404.9" font-size="38" font-weight="700" stroke="#fff" stroke-width="1.3" textLength="98" lengthAdjust="spacingAndGlyphs">GLUTEN</text>
<text x="283.6" y="1439.2" font-size="37.2" font-weight="700" stroke="#fff" stroke-width="1.3" textLength="57.5" lengthAdjust="spacingAndGlyphs">FREE</text>
<text x="283.2" y="1463.7" font-size="10.8" font-weight="700" textLength="59.5" lengthAdjust="spacingAndGlyphs">GFCO.ORG</text>
<g fill="none" stroke="#fff" stroke-width="10.9" stroke-linecap="round" stroke-linejoin="round">
<circle cx="414.2" cy="1367.1" r="23.1"/>
<path d="M414,1344.1 L438.6,1344.1"/>
<path d="M430.5,1383.4 L441.6,1394 A14.6 14.6 0 0 1 431.7,1419.4 L400.5,1419.4"/>
<path d="M431.7,1404.7 L402,1404.7 A15.3 15.3 0 0 0 402,1435.3 L432.5,1435.3"/>
</g>
<path d="M389.3,1381 L400.5,1392.5 L403,1399.6 L391.3,1402.6 Q390,1392 389.3,1381Z"/>
<circle cx="459.3" cy="1434.6" r="3.6" fill="none" stroke="#fff" stroke-width="1"/>
<text x="457.4" y="1436.9" font-size="6" font-weight="700">R</text>
</g>
<!-- Certified Vegan -->
<g>
<circle cx="593.2" cy="1400.5" r="62" fill="none" stroke="#fff" stroke-width="2.6"/>
<text transform="translate(548.20,1386.93) rotate(286.8)" text-anchor="middle" font-size="13.6" font-weight="700">C</text>
<text transform="translate(551.98,1377.93) rotate(298.7)" text-anchor="middle" font-size="13.6" font-weight="700">E</text>
<text transform="translate(557.53,1369.90) rotate(310.6)" text-anchor="middle" font-size="13.6" font-weight="700">R</text>
<text transform="translate(564.31,1363.43) rotate(322.1)" text-anchor="middle" font-size="13.6" font-weight="700">T</text>
<text transform="translate(569.59,1359.86) rotate(329.8)" text-anchor="middle" font-size="13.6" font-weight="700">I</text>
<text transform="translate(575.30,1357.04) rotate(337.6)" text-anchor="middle" font-size="13.6" font-weight="700">F</text>
<text transform="translate(581.34,1355.02) rotate(345.4)" text-anchor="middle" font-size="13.6" font-weight="700">I</text>
<text transform="translate(587.97,1353.79) rotate(353.6)" text-anchor="middle" font-size="13.6" font-weight="700">E</text>
<text transform="translate(597.73,1353.72) rotate(365.5)" text-anchor="middle" font-size="13.6" font-weight="700">D</text>
<text transform="translate(611.16,1357.07) rotate(382.5)" text-anchor="middle" font-size="13.6" font-weight="700">V</text>
<text transform="translate(619.43,1361.50) rotate(393.9)" text-anchor="middle" font-size="13.6" font-weight="700">E</text>
<text transform="translate(627.18,1368.03) rotate(406.3)" text-anchor="middle" font-size="13.6" font-weight="700">G</text>
<text transform="translate(633.55,1376.39) rotate(419.1)" text-anchor="middle" font-size="13.6" font-weight="700">A</text>
<text transform="translate(637.77,1385.60) rotate(431.5)" text-anchor="middle" font-size="13.6" font-weight="700">N</text>
<text transform="translate(554.57,1439.09) rotate(45.0)" text-anchor="middle" font-size="14.2" font-weight="700">V</text>
<text transform="translate(562.84,1445.88) rotate(33.8)" text-anchor="middle" font-size="14.2" font-weight="700">E</text>
<text transform="translate(572.99,1451.22) rotate(21.7)" text-anchor="middle" font-size="14.2" font-weight="700">G</text>
<text transform="translate(584.43,1454.39) rotate(9.2)" text-anchor="middle" font-size="14.2" font-weight="700">A</text>
<text transform="translate(595.89,1455.03) rotate(-2.8)" text-anchor="middle" font-size="14.2" font-weight="700">N</text>
<text transform="translate(604.16,1453.99) rotate(-11.6)" text-anchor="middle" font-size="14.2" font-weight="700">.</text>
<text transform="translate(612.54,1451.56) rotate(-20.7)" text-anchor="middle" font-size="14.2" font-weight="700">O</text>
<text transform="translate(623.12,1446.17) rotate(-33.2)" text-anchor="middle" font-size="14.2" font-weight="700">R</text>
<text transform="translate(632.28,1438.63) rotate(-45.7)" text-anchor="middle" font-size="14.2" font-weight="700">G</text>
<path fill-rule="evenodd" d="M593.5,1379.5 C590,1372 583,1368.5 575,1368.5 C563,1368.5 555,1377 555,1389 C555,1396 558,1402 562.5,1408 L592.5,1441.5 L623.5,1408 C628,1402 631,1396 631,1389 C631,1377 623,1368.5 611,1368.5 C603,1368.5 597,1372 593.5,1379.5 Z M566.8,1383.8 L581,1383.8 L593.3,1410 L606,1383.8 L618.5,1383.8 L592.6,1430 Z"/>
</g>
<!-- Non GMO -->
<g>
<rect x="722.8" y="1344.7" width="148.6" height="110" fill="none" stroke="#fff" stroke-width="1.3" opacity="0.85"/>
<rect x="797.2" y="1348" width="70.6" height="64.2"/>
<rect x="726.2" y="1413.8" width="141.6" height="19.8"/>
<g fill="#facd05">
<text x="805.6" y="1369.7" font-size="19.8" font-weight="700" textLength="55.5" lengthAdjust="spacingAndGlyphs">NON</text>
<text x="803.2" y="1389.3" font-size="20" font-weight="700" textLength="59.8" lengthAdjust="spacingAndGlyphs">GMO</text>
<text x="804.6" y="1405.8" font-size="16.6" textLength="56.6" lengthAdjust="spacingAndGlyphs">Project</text>
<text x="735" y="1429.7" font-size="16.4" textLength="131" lengthAdjust="spacing" stroke="#facd05" stroke-width="0.5">VERIFIED</text>
</g>
<text x="726" y="1446.8" font-size="13" font-weight="700" textLength="142.5" lengthAdjust="spacing">nongmoproject.org</text>
<path d="M732.4,1380.3 Q743,1381 749.4,1384.9 Q755,1390 756.8,1400.7 Q763,1386 775.5,1367.9 Q783,1359 794.2,1352 Q787,1362 782.3,1372.4 Q777,1384 775.5,1389.4 Q771,1402 768.7,1413.9 L749.4,1413.9 Q747.5,1405 744.9,1398.5 Q741,1390 732.4,1380.3Z"/>
<path d="M765.3,1384.9 C759,1386 752,1385.6 747.1,1383.2 C744.5,1381.5 743.8,1379 744.3,1376.5 C744.8,1374.5 745.2,1373.5 744.6,1372 C743,1369 742,1367 742,1364.5 C741.2,1361 741.2,1358.5 742.4,1356.5 C743.6,1353.8 746.5,1353 749.5,1354.8 C754,1358 757.5,1363 759.8,1368.5 C761,1371.5 762,1374 762.4,1376 C763.5,1369 767,1363.5 772.1,1360.6 L775.8,1360.2 C775.5,1365 773,1371 770.5,1375.5 C768.5,1379 766.5,1382 765.3,1384.9Z" fill="none" stroke="#fff" stroke-width="2.7" stroke-linejoin="round"/>
</g>
<!-- OU -->
<g fill="none" stroke="#fff">
<circle cx="1001" cy="1399.8" r="55.8" stroke-width="13.6"/>
<path d="M981.25,1369.5 L981.25,1407.4 A19.75 19.75 0 0 0 1020.75,1407.4 L1020.75,1369.5" stroke-width="14.5"/>
</g>
<!-- B Corp -->
<g>
<text x="1129.6" y="1336.7" font-size="23" font-weight="700" textLength="97.4" lengthAdjust="spacingAndGlyphs">Certified</text>
<circle cx="1178.7" cy="1394.3" r="44.9" fill="none" stroke="#fff" stroke-width="6.3"/>
<text x="1153.2" y="1422.2" font-size="79.6" textLength="53.5" lengthAdjust="spacingAndGlyphs" stroke="#fff" stroke-width="1.4">B</text>
<rect x="1130.3" y="1452.6" width="96.3" height="6.3"/>
<circle cx="1223.4" cy="1446.3" r="2.3" fill="none" stroke="#fff" stroke-width="0.7"/>
<text x="1129.8" y="1479.2" font-size="16" font-weight="700" textLength="97.2" lengthAdjust="spacingAndGlyphs">Corporation</text>
</g>
</svg>

</body></html>
